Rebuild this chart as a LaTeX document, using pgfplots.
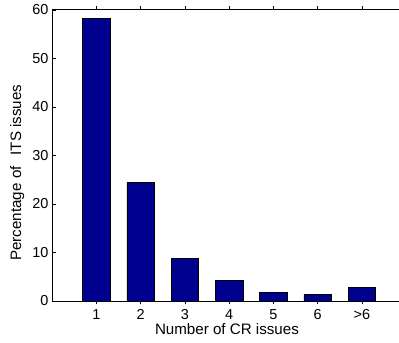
\documentclass[border=0pt]{standalone}
\usepackage{pgfplots}
\pgfplotsset{compat=1.18}
\usepackage{fontspec}
\setmainfont{Liberation Sans}
\definecolor{barblue}{RGB}{0,0,143}
\begin{document}
\begin{tikzpicture}
\useasboundingbox (-52bp,-42bp) rectangle (347bp,301bp);
\clip (-52bp,-42bp) rectangle (347bp,301bp);
\begin{axis}[
  scale only axis, width=354.2bp, height=291bp,
  xmin=0, xmax=8, ymin=0, ymax=60,
  xtick={1,2,3,4,5,6,7}, xticklabels={1,2,3,4,5,6,>6},
  ytick={0,10,20,30,40,50,60},
  ytick pos=left, xtick pos=both,
  tick align=inside, major tick length=3.5bp,
  tick style={black, line width=0.6bp},
  axis line style={black, line width=1bp},
  /pgf/number format/assume math mode=true,
  ticklabel style={font=\fontsize{14.5}{16}\selectfont},
  xticklabel style={yshift=-1.5bp},
  label style={font=\fontsize{15.2}{17}\selectfont},
  xlabel={Number of CR issues},
  ylabel={Percentage of \ \,ITS issues},
  xlabel style={at={(axis description cs:0.494,-0.1168)}, anchor=base},
  ylabel style={at={(axis description cs:-0.0875,0.441)}, anchor=base},
  ybar, bar width=0.62,
]
\addplot[ybar, fill=barblue, draw=black, line width=0.6bp] coordinates {(1,58.2) (2,24.4) (3,8.75) (4,4.27) (5,1.73) (6,1.32) (7,2.83)};
\end{axis}
\end{tikzpicture}
\end{document}
